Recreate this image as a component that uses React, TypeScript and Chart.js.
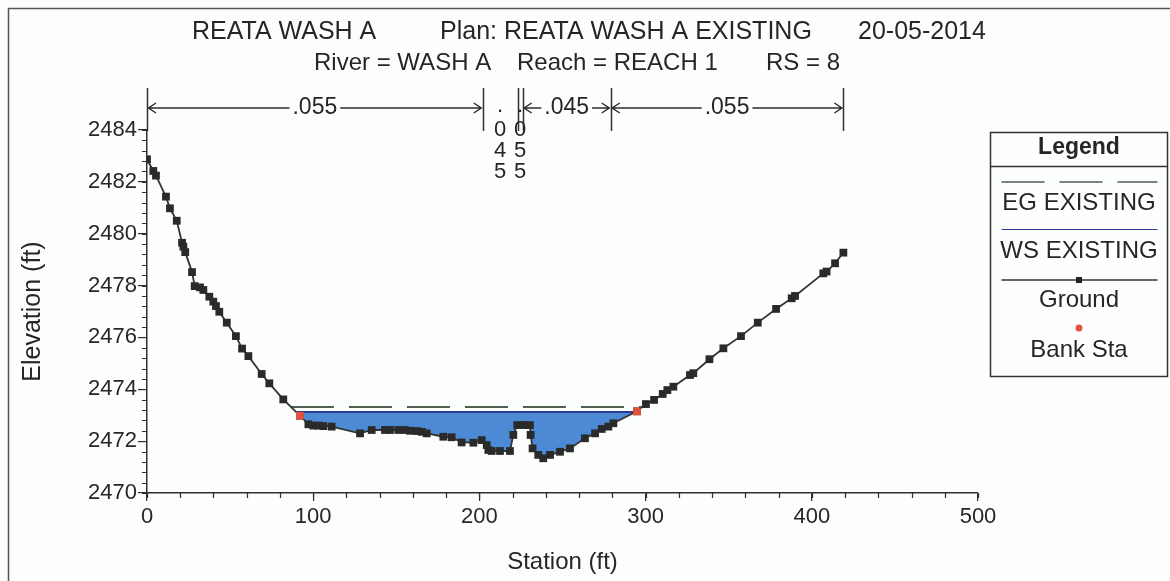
import React, { useEffect, useRef } from "react";
import { Chart, registerables } from "chart.js";

Chart.register(...registerables);

// ---- data ----
const stations = [
  0, 3.8, 5.4, 11.4, 13.8, 17.9, 21.1, 21.9, 23.0, 27.1, 28.7, 31.9, 33.9, 37.5, 39.9, 41.5, 43.5, 48.0,
  53.5, 57.2, 61.0, 69.0, 73.6, 82.0, 92.0, 97.1, 100.1, 103.1, 106.1, 111.1, 128.2, 135.2, 143.2,
  146.2, 151.2, 155.2, 158.2, 162.3, 165.3, 168.3, 178.3, 183.3, 189.3, 196.4, 201.4, 204.4, 205.4,
  207.4, 212.4, 218.4, 220.4, 222.8, 226.6, 230.4, 230.8, 232.0, 235.4, 238.4, 242.5, 248.5, 254.5,
  263.5, 269.6, 273.6, 277.6, 280.6, 294.8, 300.2, 305.1, 310.3, 313.1, 316.7, 326.7, 328.7, 338.4,
  346.8, 357.4, 367.5, 378.5, 387.9, 389.9, 406.9, 408.9, 414.0, 419.0,
];
const elevations = [
  2482.87, 2482.42, 2482.24, 2481.43, 2480.98, 2480.5, 2479.65, 2479.5, 2479.29, 2478.52, 2477.98,
  2477.93, 2477.83, 2477.57, 2477.38, 2477.21, 2476.99, 2476.57, 2476.05, 2475.57, 2475.28, 2474.59,
  2474.23, 2473.61, 2472.98, 2472.65, 2472.6, 2472.6, 2472.58, 2472.56, 2472.3, 2472.43, 2472.43,
  2472.43, 2472.43, 2472.43, 2472.4, 2472.39, 2472.36, 2472.3, 2472.17, 2472.15, 2471.95, 2471.94,
  2472.04, 2471.85, 2471.66, 2471.62, 2471.62, 2471.62, 2472.24, 2472.62, 2472.62, 2472.62, 2472.24,
  2471.72, 2471.47, 2471.34, 2471.47, 2471.59, 2471.72, 2472.11, 2472.3, 2472.47, 2472.56, 2472.69,
  2473.15, 2473.43, 2473.59, 2473.82, 2473.97, 2474.1, 2474.55, 2474.62, 2475.16, 2475.58, 2476.05,
  2476.57, 2477.1, 2477.51, 2477.6, 2478.47, 2478.54, 2478.86, 2479.27,
];
const bankStations = [92.0, 294.8];
const bankElevations = [2472.98, 2473.15];
const wsElevation = 2473.12;
const egElevation = 2473.32;
const nBreaks = [0, 202, 223, 226, 279, 419];
const nValues = [".055", ".045", ".055", ".045", ".055"];
const xTickValues = [0, 100, 200, 300, 400, 500];
const yTickValues = [2470, 2472, 2474, 2476, 2478, 2480, 2482, 2484];
const xMinorStep = 20;
const yMinorStep = 0.4;

const titleLine1 = ["REATA WASH A", "Plan: REATA WASH A EXISTING", "20-05-2014"];
const titleLine2 = ["River = WASH A", "Reach = REACH 1", "RS = 8"];
const legendLabels = ["EG EXISTING", "WS EXISTING", "Ground", "Bank Sta"];

// ---- styles ----
const FONT = "'Liberation Sans', Arial, Helvetica, sans-serif";
const INK = "#2e2e2e";
const TEXT = "#262626";
const GROUND = "#333333";
const WS_LINE = "#2b3a96";
const WS_FILL = "#4d8ad6";
const EG_LINE = "#4f5f50";
const BANK = "#e0533c";
const EG_DASH = [43, 15];

function crossings(level: number): [number, number] {
  let left = stations[0];
  let right = stations[stations.length - 1];
  for (let i = 0; i < stations.length - 1; i++) {
    const y0 = elevations[i], y1 = elevations[i + 1];
    if (y0 >= level && y1 < level) {
      left = stations[i] + ((y0 - level) / (y0 - y1)) * (stations[i + 1] - stations[i]);
      break;
    }
  }
  for (let i = stations.length - 1; i > 0; i--) {
    const y0 = elevations[i], y1 = elevations[i - 1];
    if (y0 >= level && y1 < level) {
      right = stations[i] - ((y0 - level) / (y0 - y1)) * (stations[i] - stations[i - 1]);
      break;
    }
  }
  return [left, right];
}

const hecPlugin = {
  id: "hecras",
  beforeDraw(chart: any) {
    const ctx = chart.ctx;
    ctx.save();
    ctx.fillStyle = "#fcfefe";
    ctx.fillRect(0, 0, chart.width, chart.height);
    ctx.strokeStyle = "#555";
    ctx.lineWidth = 1.5;
    ctx.beginPath();
    ctx.moveTo(8.5, chart.height);
    ctx.lineTo(8.5, 8.5);
    ctx.lineTo(chart.width, 8.5);
    ctx.stroke();
    ctx.restore();
  },
  afterDraw(chart: any) {
    const ctx = chart.ctx;
    const xs = chart.scales.x;
    const ys = chart.scales.y;
    const area = chart.chartArea;
    ctx.save();
    // minor ticks
    ctx.strokeStyle = INK;
    ctx.lineWidth = 1.2;
    ctx.beginPath();
    for (let v = ys.min; v <= ys.max + 1e-6; v += yMinorStep) {
      const p = Math.round(ys.getPixelForValue(v)) + 0.5;
      ctx.moveTo(area.left - 5, p);
      ctx.lineTo(area.left, p);
    }
    for (let v = xs.min; v <= xs.max + 1e-6; v += xMinorStep) {
      const p = Math.round(xs.getPixelForValue(v)) + 0.5;
      ctx.moveTo(p, area.bottom);
      ctx.lineTo(p, area.bottom + 5);
    }
    ctx.stroke();

    // titles
    ctx.fillStyle = TEXT;
    ctx.font = `25px ${FONT}`;
    ctx.textBaseline = "middle";
    ctx.textAlign = "left";
    const t1x = [192, 440, 858];
    titleLine1.forEach((t, i) => ctx.fillText(t, t1x[i], 32));
    ctx.font = `24px ${FONT}`;
    const t2x = [314, 517, 766];
    titleLine2.forEach((t, i) => ctx.fillText(t, t2x[i], 63));

    // Manning's n annotations
    const rowY = 108;
    ctx.strokeStyle = INK;
    ctx.lineWidth = 1.5;
    ctx.beginPath();
    nBreaks.forEach((b) => {
      const p = Math.round(xs.getPixelForValue(b)) + 0.5;
      ctx.moveTo(p, 88);
      ctx.lineTo(p, 131);
    });
    ctx.stroke();
    ctx.font = `23px ${FONT}`;
    ctx.textAlign = "center";
    for (let i = 0; i < nValues.length; i++) {
      const a = xs.getPixelForValue(nBreaks[i]);
      const b = xs.getPixelForValue(nBreaks[i + 1]);
      const mid = (a + b) / 2;
      const label = nValues[i];
      const w = ctx.measureText(label).width;
      if (b - a > w + 24) {
        ctx.fillText(label, mid, rowY);
        ctx.beginPath();
        const l1 = mid - w / 2 - 3;
        const r1 = mid + w / 2 + 3;
        ctx.moveTo(a + 1, rowY);
        ctx.lineTo(l1, rowY);
        ctx.moveTo(r1, rowY);
        ctx.lineTo(b - 1, rowY);
        ctx.moveTo(a + 9, rowY - 5);
        ctx.lineTo(a + 1.5, rowY);
        ctx.lineTo(a + 9, rowY + 5);
        ctx.moveTo(b - 9, rowY - 5);
        ctx.lineTo(b - 1.5, rowY);
        ctx.lineTo(b - 9, rowY + 5);
        ctx.stroke();
      } else {
        ctx.font = `22px ${FONT}`;
        const chars = label.split("");
        chars.forEach((c, k) => {
          ctx.fillText(c, mid, (k === 0 ? 106 : 109) + k * 21);
        });
        ctx.font = `23px ${FONT}`;
      }
    }

    // legend
    const lx = 990.5, ly = 132.5, lw = 177, lh = 244;
    const cx = lx + lw / 2;
    ctx.fillStyle = "#fdfefe";
    ctx.fillRect(lx, ly, lw, lh);
    ctx.strokeStyle = "#333";
    ctx.lineWidth = 1.5;
    ctx.strokeRect(lx, ly, lw, lh);
    ctx.beginPath();
    ctx.moveTo(lx, 166.5);
    ctx.lineTo(lx + lw, 166.5);
    ctx.stroke();
    ctx.fillStyle = TEXT;
    ctx.font = `bold 23px ${FONT}`;
    ctx.textAlign = "center";
    ctx.fillText("Legend", cx, 148);
    ctx.font = `24px ${FONT}`;
    ctx.strokeStyle = EG_LINE;
    ctx.lineWidth = 1.5;
    ctx.setLineDash(EG_DASH);
    ctx.beginPath();
    ctx.moveTo(lx + 11, 182);
    ctx.lineTo(lx + lw - 10, 182);
    ctx.stroke();
    ctx.setLineDash([]);
    ctx.fillText(legendLabels[0], cx, 203);
    ctx.strokeStyle = WS_LINE;
    ctx.lineWidth = 1.2;
    ctx.beginPath();
    ctx.moveTo(lx + 11, 229.5);
    ctx.lineTo(lx + lw - 10, 229.5);
    ctx.stroke();
    ctx.fillText(legendLabels[1], cx, 251);
    ctx.strokeStyle = GROUND;
    ctx.lineWidth = 1.5;
    ctx.beginPath();
    ctx.moveTo(lx + 11, 280);
    ctx.lineTo(lx + lw - 10, 280);
    ctx.stroke();
    ctx.fillStyle = "#222";
    ctx.fillRect(cx - 3, 277, 6, 6);
    ctx.fillStyle = TEXT;
    ctx.fillText(legendLabels[2], cx, 300);
    ctx.fillStyle = BANK;
    ctx.beginPath();
    ctx.arc(cx, 328, 3.5, 0, Math.PI * 2);
    ctx.fill();
    ctx.fillStyle = TEXT;
    ctx.fillText(legendLabels[3], cx, 350);
    ctx.restore();
  },
};

export default function App() {
  const ref = useRef<HTMLCanvasElement>(null);
  useEffect(() => {
    Chart.defaults.font.family = FONT;
    const ground = stations.map((x, i) => ({ x, y: elevations[i] }));
    const banks = bankStations.map((x, i) => ({ x, y: bankElevations[i] }));
    const [wsL, wsR] = crossings(wsElevation);
    const [egL, egR] = crossings(egElevation);
    const wet = [
      { x: wsL, y: wsElevation },
      ...ground.filter((p) => p.x > wsL && p.x < wsR),
      { x: wsR, y: wsElevation },
    ];
    const chart = new Chart(ref.current!, {
      type: "scatter",
      data: {
        datasets: [
          {
            label: "Bank Sta",
            data: banks,
            showLine: false,
            pointStyle: "rect",
            pointRadius: 5.5,
            backgroundColor: BANK,
            borderColor: BANK,
            borderWidth: 0,
            order: 0,
          },
          {
            label: "Ground",
            data: ground,
            showLine: true,
            borderColor: GROUND,
            borderWidth: 1.8,
            pointStyle: "rect",
            pointRadius: 5.5,
            pointBackgroundColor: "#2a2a2a",
            pointBorderWidth: 0,
            order: 1,
          },
          {
            label: "WS EXISTING",
            data: [
              { x: wsL, y: wsElevation },
              { x: wsR, y: wsElevation },
            ],
            showLine: true,
            borderColor: WS_LINE,
            borderWidth: 2,
            pointRadius: 0,
            order: 2,
          },
          {
            label: "EG EXISTING",
            data: [
              { x: egL, y: egElevation },
              { x: egR, y: egElevation },
            ],
            showLine: true,
            borderColor: EG_LINE,
            borderWidth: 2,
            borderDash: EG_DASH,
            pointRadius: 0,
            order: 3,
          },
          {
            label: "WS fill",
            data: wet,
            showLine: true,
            borderWidth: 0,
            borderColor: "rgba(0,0,0,0)",
            backgroundColor: WS_FILL,
            fill: { value: wsElevation },
            pointRadius: 0,
            order: 4,
          },
        ],
      },
      options: {
        responsive: false,
        animation: false,
        events: [],
        layout: { padding: { top: 130, right: 192, bottom: 0, left: 0 } },
        plugins: {
          legend: { display: false },
          tooltip: { enabled: false },
          title: { display: false },
        },
        scales: {
          x: {
            type: "linear",
            min: 0,
            max: 500,
            afterBuildTicks: (s: any) => {
              s.ticks = xTickValues.map((v) => ({ value: v }));
            },
            afterFit: (s: any) => {
              s.height = 88;
            },
            ticks: {
              color: TEXT,
              font: { size: 22 },
              padding: 3,
              maxRotation: 0,
              callback: (v: any) => String(v),
            },
            grid: { drawOnChartArea: false, drawTicks: true, tickLength: 8, color: INK, lineWidth: 1.2 },
            border: { display: true, color: INK, width: 1.5 },
            title: {
              display: true,
              text: "Station (ft)",
              color: TEXT,
              font: { size: 24 },
              padding: { top: 0, bottom: 4 },
            },
          },
          y: {
            type: "linear",
            min: 2470,
            max: 2484,
            afterBuildTicks: (s: any) => {
              s.ticks = yTickValues.map((v) => ({ value: v }));
            },
            afterFit: (s: any) => {
              s.width = 147;
            },
            ticks: { color: TEXT, font: { size: 22 }, padding: 1, callback: (v: any) => String(v) },
            grid: { drawOnChartArea: false, drawTicks: true, tickLength: 9, color: INK, lineWidth: 1.2 },
            border: { display: true, color: INK, width: 1.5 },
            title: {
              display: true,
              text: "Elevation (ft)",
              color: TEXT,
              font: { size: 25 },
              padding: { top: 18, bottom: 0 },
            },
          },
        },
      },
      plugins: [hecPlugin],
    } as any);
    return () => chart.destroy();
  }, []);
  return (
    <div style={{ position: "fixed", left: 0, top: 0, width: 1170, height: 581, background: "#fcfefe" }}>
      <canvas ref={ref} width={1170} height={581} style={{ display: "block", width: "1170px", height: "581px" }} />
    </div>
  );
}
